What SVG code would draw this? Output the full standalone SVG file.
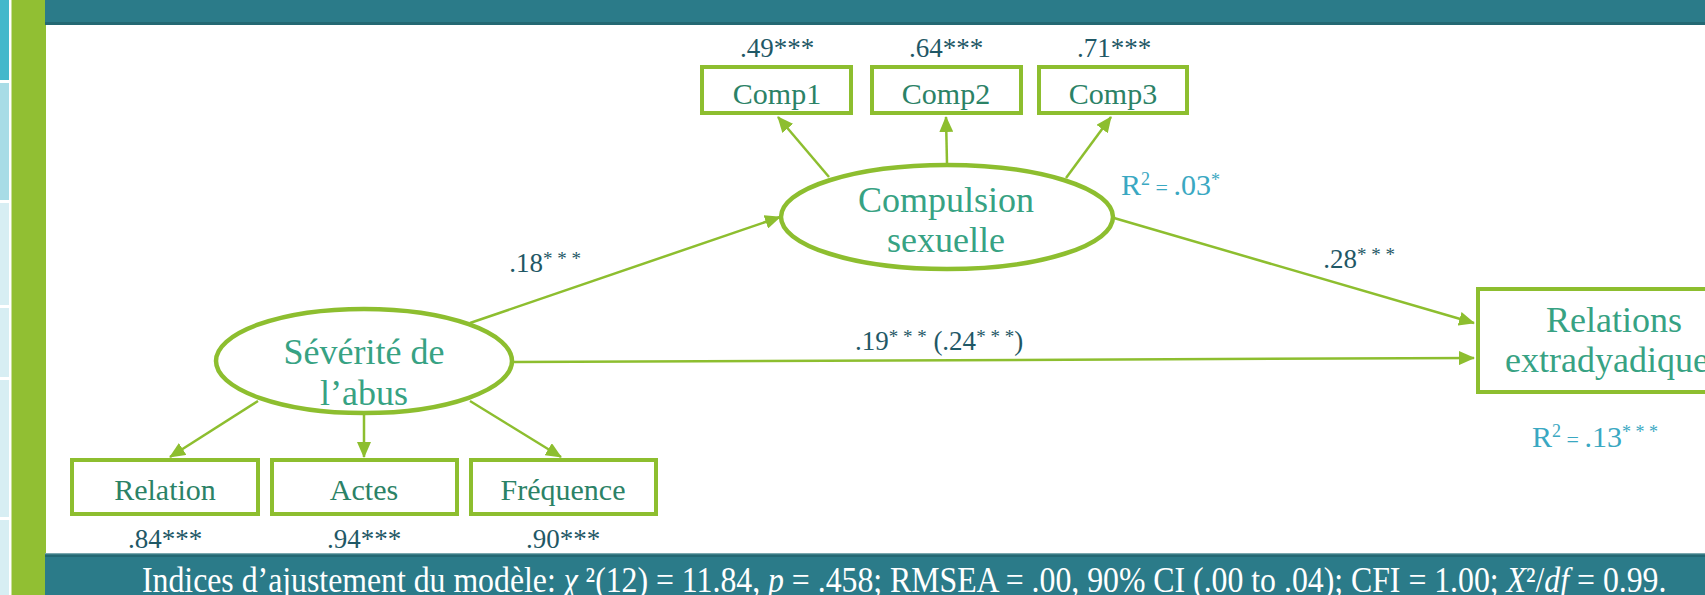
<svg xmlns="http://www.w3.org/2000/svg" width="1705" height="595" viewBox="0 0 1705 595">
<style>
.box{fill:#fff;stroke:#8dbe2f;stroke-width:4}
.ell{fill:#fff;stroke:#8dbe2f;stroke-width:4.5}
.con{stroke:#8dbe2f;stroke-width:2.5;fill:none;marker-end:url(#ah)}
.t{font-family:"Liberation Serif",serif;text-anchor:middle}
.nodeL{font-size:36px;fill:#37a283}
.nodeS{font-size:30px;fill:#2b8266}
.val{font-size:27px;fill:#1f5866}
.r2{font-family:"Liberation Serif",serif;font-size:30px;fill:#3aa8c2}
.foot{font-family:"Liberation Serif",serif;font-size:36px;fill:#fff}
</style>
<defs>
<marker id="ah" markerUnits="userSpaceOnUse" markerWidth="16" markerHeight="14" refX="15" refY="7" orient="auto">
<path d="M0,0 L16,7 L0,14 z" fill="#8dbe2f"/>
</marker>
</defs>
<rect x="0" y="0" width="1705" height="595" fill="#fff"/>
<g id="decor">
<rect x="0" y="0" width="9" height="80" fill="#44b8cb"/>
<rect x="0" y="83" width="9" height="117" fill="#a8dce6"/>
<rect x="0" y="203" width="9" height="102" fill="#d7eef3"/>
<rect x="0" y="308" width="9" height="69" fill="#d7eef3"/>
<rect x="0" y="380" width="9" height="137" fill="#d7eef3"/>
<rect x="0" y="520" width="9" height="75" fill="#d7eef3"/>
<rect x="11.5" y="0" width="34.5" height="595" fill="#91bf33"/>
<rect x="45" y="0" width="1660" height="25" fill="#2b7b89"/>
<rect x="45" y="22" width="1660" height="3" fill="#236873"/>
<rect x="45" y="553" width="1660" height="42" fill="#2b7b89"/>
<rect x="45" y="553" width="1660" height="1.5" fill="#7aa7ae"/>
<rect x="45" y="554.5" width="1660" height="2.5" fill="#236873"/>
</g>
<g id="connectors">
<line class="con" x1="829" y1="177" x2="778" y2="117"/>
<line class="con" x1="947" y1="164" x2="946" y2="117"/>
<line class="con" x1="1066" y1="178" x2="1111" y2="117"/>
<line class="con" x1="470" y1="323" x2="780" y2="217"/>
<line class="con" x1="513" y1="362" x2="1474" y2="358"/>
<line class="con" x1="1114" y1="218" x2="1474" y2="323"/>
<line class="con" x1="258" y1="401" x2="170" y2="457"/>
<line class="con" x1="364" y1="413" x2="364" y2="457"/>
<line class="con" x1="470" y1="401" x2="561" y2="457"/>
</g>
<g id="comp1">
<rect class="box" x="702" y="67" width="149" height="46"/>
<text class="t nodeS" x="777" y="104">Comp1</text>
<text class="t val" x="777" y="57">.49***</text>
</g>
<g id="comp2">
<rect class="box" x="872" y="67" width="149" height="46"/>
<text class="t nodeS" x="946" y="104">Comp2</text>
<text class="t val" x="946" y="57">.64***</text>
</g>
<g id="comp3">
<rect class="box" x="1039" y="67" width="148" height="46"/>
<text class="t nodeS" x="1113" y="104">Comp3</text>
<text class="t val" x="1114" y="57">.71***</text>
</g>
<g id="compulsion">
<ellipse class="ell" cx="947" cy="217" rx="166" ry="52"/>
<text class="t nodeL" x="946" y="212">Compulsion</text>
<text class="t nodeL" x="946" y="252">sexuelle</text>
</g>
<g id="severite">
<ellipse class="ell" cx="364" cy="361" rx="148" ry="52"/>
<text class="t nodeL" x="364" y="364">Sévérité de</text>
<text class="t nodeL" x="364" y="405">l’abus</text>
</g>
<g id="relation">
<rect class="box" x="72" y="460" width="186" height="54"/>
<text class="t nodeS" x="165" y="500">Relation</text>
<text class="t val" x="165" y="548">.84***</text>
</g>
<g id="actes">
<rect class="box" x="272" y="460" width="185" height="54"/>
<text class="t nodeS" x="364" y="500">Actes</text>
<text class="t val" x="364" y="548">.94***</text>
</g>
<g id="frequence">
<rect class="box" x="471" y="460" width="185" height="54"/>
<text class="t nodeS" x="563" y="500">Fréquence</text>
<text class="t val" x="563" y="548">.90***</text>
</g>
<g id="relations">
<rect class="box" x="1478" y="289" width="300" height="103"/>
<text class="t nodeL" x="1614" y="332">Relations</text>
<text class="t nodeL" x="1614" y="372">extradyadiques</text>
</g>
<g id="labels">
<text class="t val" x="545" y="272">.18<tspan font-size="19" dy="-7">* * *</tspan></text>
<text class="t val" x="939" y="350">.19<tspan font-size="19" dy="-7">* * *</tspan><tspan dy="7"> (.24</tspan><tspan font-size="19" dy="-7">* * *</tspan><tspan dy="7">)</tspan></text>
<text class="t val" x="1359" y="268">.28<tspan font-size="19" dy="-7">* * *</tspan></text>
<text class="r2" x="1121" y="195">R<tspan font-size="18" dy="-10">2</tspan><tspan font-size="22" dy="10"> = </tspan>.03<tspan font-size="18" dy="-9">*</tspan></text>
<text class="r2" x="1532" y="447">R<tspan font-size="18" dy="-10">2</tspan><tspan font-size="22" dy="10"> = </tspan>.13<tspan font-size="18" dy="-9">* * *</tspan></text>
</g>
<g id="footer">
<text class="foot" transform="translate(142,592) scale(0.883,1)" x="0" y="0">Indices d’ajustement du modèle:  <tspan font-style="italic">χ</tspan> ²(12) = 11.84, <tspan font-style="italic">p</tspan> = .458; RMSEA = .00, 90% CI (.00 to .04); CFI = 1.00; <tspan font-style="italic">X</tspan>²/<tspan font-style="italic">df</tspan> = 0.99.</text>
</g>
</svg>
